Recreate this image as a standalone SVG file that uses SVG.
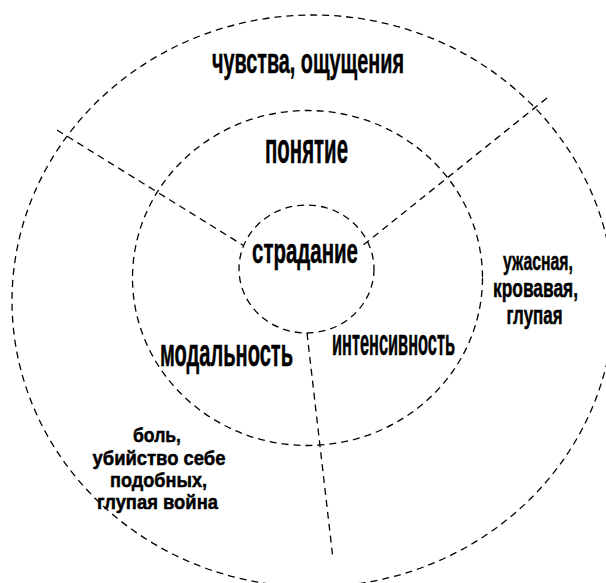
<svg xmlns="http://www.w3.org/2000/svg" width="606" height="583" viewBox="0 0 606 583">
<style>
.d{fill:none;stroke:#000;stroke-width:1.3;stroke-dasharray:7 5}
.t{font-family:"Liberation Sans Narrow","Liberation Sans",Arial,sans-serif;font-weight:bold;fill:#000;stroke:#000;stroke-width:0.5;text-anchor:middle}
</style>
<rect width="606" height="583" fill="#fff"/>
<g id="outer">
<ellipse class="d" cx="313" cy="301" rx="301" ry="286"/>
<text class="t" x="308" y="73" font-size="35" textLength="192" lengthAdjust="spacingAndGlyphs">чувства, ощущения</text>
</g>
<g id="middle">
<ellipse class="d" cx="307.5" cy="278" rx="175" ry="167.5"/>
<text class="t" x="306.5" y="163" font-size="42" textLength="83" lengthAdjust="spacingAndGlyphs">понятие</text>
</g>
<g id="inner">
<ellipse class="d" cx="306.5" cy="269" rx="67.5" ry="64"/>
<text class="t" x="305" y="263" font-size="35" textLength="106" lengthAdjust="spacingAndGlyphs">страдание</text>
</g>
<g id="connectors">
<line class="d" x1="57" y1="130" x2="243.5" y2="245.5"/>
<line class="d" x1="547" y1="98" x2="361.5" y2="246.5"/>
<line class="d" x1="307" y1="333" x2="333" y2="559"/>
</g>
<g id="modality">
<text class="t" x="226.5" y="366" font-size="38" textLength="133" lengthAdjust="spacingAndGlyphs">модальность</text>
</g>
<g id="intensity">
<text class="t" x="393.5" y="355" font-size="36" textLength="123" lengthAdjust="spacingAndGlyphs">интенсивность</text>
</g>
<g id="right-examples">
<text class="t" x="538" y="270" font-size="26" textLength="70" lengthAdjust="spacingAndGlyphs">ужасная,</text>
<text class="t" x="535.5" y="297" font-size="26" textLength="85" lengthAdjust="spacingAndGlyphs">кровавая,</text>
<text class="t" x="534.5" y="324" font-size="26" textLength="56" lengthAdjust="spacingAndGlyphs">глупая</text>
</g>
<g id="left-examples">
<text class="t" x="157" y="442" font-size="21" textLength="48" lengthAdjust="spacingAndGlyphs">боль,</text>
<text class="t" x="159" y="465" font-size="21" textLength="133" lengthAdjust="spacingAndGlyphs">убийство себе</text>
<text class="t" x="158.5" y="487" font-size="21" textLength="97" lengthAdjust="spacingAndGlyphs">подобных,</text>
<text class="t" x="157.5" y="509" font-size="21" textLength="121" lengthAdjust="spacingAndGlyphs">глупая война</text>
</g>
</svg>
